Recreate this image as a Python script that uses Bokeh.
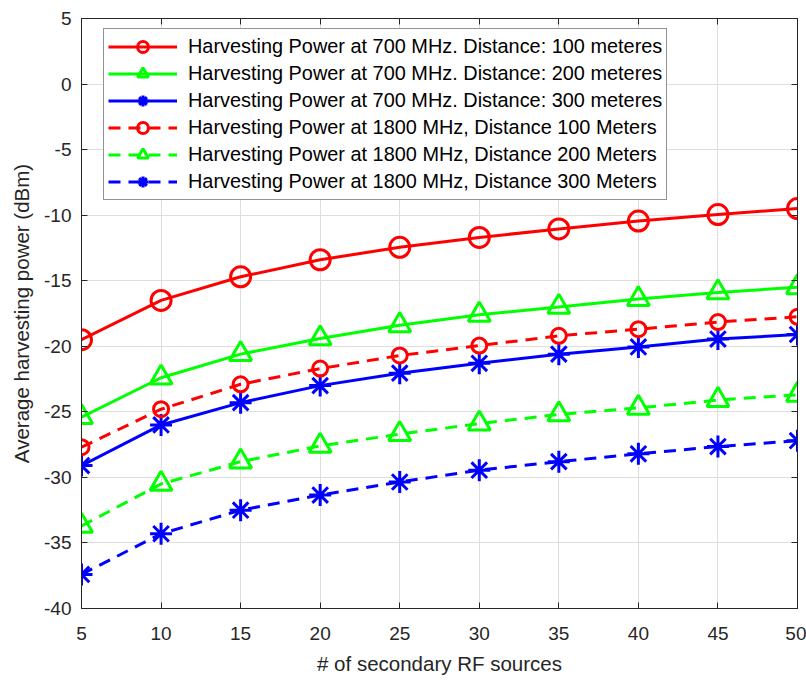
from bokeh.plotting import figure
from bokeh.models import (Range1d, FixedTicker, LinearAxis, Legend, LegendItem,
                          PrintfTickFormatter, CustomJSTickFormatter)
from bokeh.embed import file_html
from bokeh.resources import INLINE

# ---- data ----
sources = [5, 10, 15, 20, 25, 30, 35, 40, 45, 50]
p700_d100 = [-19.5, -16.5, -14.7, -13.4, -12.45, -11.7, -11.05, -10.45, -9.95, -9.5]
p700_d200 = [-25.4, -22.4, -20.6, -19.4, -18.4, -17.6, -17.0, -16.4, -15.9, -15.5]
p700_d300 = [-29.1, -26.0, -24.3, -23.0, -22.05, -21.3, -20.6, -20.05, -19.45, -19.1]
p1800_d100 = [-27.7, -24.8, -22.9, -21.7, -20.7, -19.95, -19.2, -18.7, -18.15, -17.75]
p1800_d200 = [-33.7, -30.5, -28.8, -27.6, -26.7, -25.9, -25.2, -24.7, -24.1, -23.7]
p1800_d300 = [-37.4, -34.3, -32.5, -31.35, -30.35, -29.45, -28.8, -28.2, -27.65, -27.2]
labels = [
    "Harvesting Power at 700 MHz. Distance: 100 meteres",
    "Harvesting Power at 700 MHz. Distance: 200 meteres",
    "Harvesting Power at 700 MHz. Distance: 300 meteres",
    "Harvesting Power at 1800 MHz, Distance 100 Meters",
    "Harvesting Power at 1800 MHz, Distance 200 Meters",
    "Harvesting Power at 1800 MHz, Distance 300 Meters",
]
x_ticks = [5, 10, 15, 20, 25, 30, 35, 40, 45, 50]
y_ticks = [-40, -35, -30, -25, -20, -15, -10, -5, 0, 5]

series = [p700_d100, p700_d200, p700_d300, p1800_d100, p1800_d200, p1800_d300]
styles = [
    dict(color="#FF0000", dash="solid", marker="circle", size=20),
    dict(color="#00FF00", dash="solid", marker="triangle", size=22),
    dict(color="#0000FF", dash="solid", marker="asterisk", size=22),
    dict(color="#FF0000", dash="12 8", marker="circle", size=15),
    dict(color="#00FF00", dash="12 8", marker="triangle", size=22),
    dict(color="#0000FF", dash="12 8", marker="asterisk", size=22),
]

FONT = "Liberation Sans"
AX = "#262626"

p = figure(width=806, height=681, output_backend="svg", toolbar_location=None,
           x_range=Range1d(5, 50), y_range=Range1d(-40, 5),
           min_border_left=81, min_border_right=9, min_border_top=18, min_border_bottom=73,
           background_fill_color="white", border_fill_color="white")
p.outline_line_color = AX
p.outline_line_width = 1

xt = FixedTicker(ticks=x_ticks)
yt = FixedTicker(ticks=y_ticks)
p.xaxis.ticker = xt
p.yaxis.ticker = yt
for ax in (p.xaxis[0], p.yaxis[0]):
    ax.formatter = PrintfTickFormatter(format="%d")
    ax.major_tick_in = 6
    ax.major_tick_out = 0
    ax.minor_tick_line_color = None
    ax.axis_line_color = AX
    ax.major_tick_line_color = AX
    ax.major_label_text_font = FONT
    ax.major_label_text_font_size = "19px"
    ax.major_label_text_color = AX
    ax.axis_label_text_font = FONT
    ax.axis_label_text_font_size = "20.5px"
    ax.axis_label_text_font_style = "normal"
    ax.axis_label_text_color = AX
p.xaxis.axis_label = "# of secondary RF sources"
p.yaxis.axis_label = "Average harvesting power (dBm)"
p.xaxis.major_label_standoff = 18
p.yaxis.major_label_standoff = 10
p.xaxis.axis_label_standoff = 9
p.yaxis.axis_label_standoff = 8

for loc, tk in (("above", xt), ("right", yt)):
    a = LinearAxis(ticker=tk, major_tick_in=6, major_tick_out=0,
                   minor_tick_line_color=None, axis_line_color=AX,
                   major_tick_line_color=AX,
                   formatter=CustomJSTickFormatter(code="return ''"),
                   major_label_standoff=0)
    p.add_layout(a, loc)

p.grid.grid_line_color = "#dedede"
p.grid.grid_line_width = 1
p.xgrid.ticker = xt
p.ygrid.ticker = yt

items = []
for vals, st, lab in zip(series, styles, labels):
    ln = p.line(sources, vals, line_color=st["color"], line_width=3, line_dash=st["dash"])
    sc = p.scatter(sources, vals, marker=st["marker"], size=st["size"],
                   line_color=st["color"], fill_color=None, line_width=3)
    items.append(LegendItem(label=lab, renderers=[ln, sc]))

legend = Legend(items=items, location=(22, 408), orientation="vertical",
                label_text_font=FONT, label_text_font_size="19.9px", label_text_color="#000000",
                glyph_width=69, glyph_height=27, label_height=27, spacing=0,
                padding=4, margin=0, label_standoff=11,
                border_line_color=AX, border_line_width=1,
                background_fill_color="white", background_fill_alpha=1)
p.add_layout(legend, "center")

open("out.html", "w").write(file_html(p, INLINE))
